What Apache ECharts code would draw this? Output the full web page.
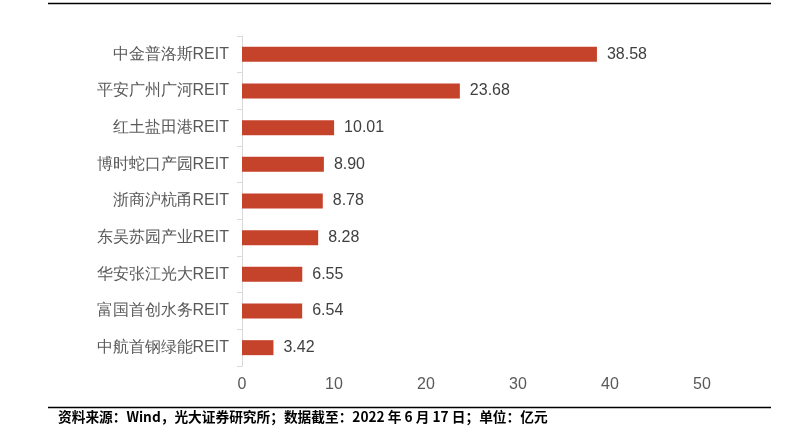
<!DOCTYPE html>
<html><head><meta charset="utf-8">
<script src="https://cdn.jsdelivr.net/npm/echarts@6/dist/echarts.min.js"></script>
<style>html,body{margin:0;padding:0;background:#fff}#c{width:805px;height:439px}</style>
</head><body><div id="c"></div>
<script>
var categories = ['中金普洛斯REIT','平安广州广河REIT','红土盐田港REIT','博时蛇口产园REIT','浙商沪杭甬REIT','东吴苏园产业REIT','华安张江光大REIT','富国首创水务REIT','中航首钢绿能REIT'];
var values = [38.58, 23.68, 10.01, 8.90, 8.78, 8.28, 6.55, 6.54, 3.42];
var xTicks = [0, 10, 20, 30, 40, 50];
var sourceText = '资料来源：Wind，光大证券研究所；数据截至：2022 年 6 月 17 日；单位：亿元';

var chart = echarts.init(document.getElementById('c'));
chart.setOption({
  animation: false,
  grid: {left: 242, right: 103, top: 36, bottom: 73, containLabel: false},
  xAxis: {
    type: 'value', min: xTicks[0], max: xTicks[xTicks.length-1], interval: 10,
    axisLine: {show: false}, axisTick: {show: false}, splitLine: {show: false},
    axisLabel: {color: '#595959', fontSize: 16, margin: 11, fontFamily: 'Liberation Sans Narrow, Arial Narrow, sans-serif'}
  },
  yAxis: {
    type: 'category', inverse: true, data: categories,
    axisLine: {show: true, lineStyle: {color: '#d9d9d9', width: 1}},
    axisTick: {show: true, length: 5, lineStyle: {color: '#d9d9d9'}},
    axisLabel: {color: '#595959', fontSize: 16, margin: 13, fontFamily: 'Liberation Sans, Arial, sans-serif'}
  },
  series: [{
    type: 'bar', data: values, barWidth: 15,
    itemStyle: {color: '#C5432A'},
    label: {show: true, position: 'right', distance: 10, color: '#404040', fontSize: 16,
      fontFamily: 'Liberation Sans, Arial, sans-serif',
      formatter: function(p){ return p.value.toFixed(2); }}
  }],
  graphic: [
    {type: 'line', shape: {x1: 48, y1: 3.5, x2: 771, y2: 3.5}, style: {stroke: '#000', lineWidth: 1.5}},
    {type: 'line', shape: {x1: 48, y1: 407.5, x2: 771, y2: 407.5}, style: {stroke: '#000', lineWidth: 1.5}},
    {type: 'text', left: 58, top: 410, style: {text: sourceText, fill: '#000', font: 'bold 13.7px "Noto Sans CJK SC", sans-serif'}}
  ]
});
</script></body></html>
